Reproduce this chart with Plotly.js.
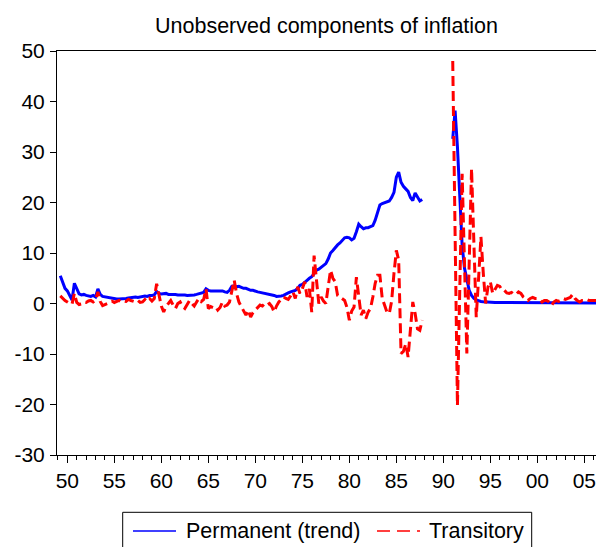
<!DOCTYPE html>
<html>
<head>
<meta charset="utf-8">
<script src="https://cdn.plot.ly/plotly-3.0.1.min.js"></script>
<style>
html,body{margin:0;padding:0;background:#fff;}
#chart{width:596px;height:547px;}
</style>
</head>
<body>
<div id="chart"></div>
<script>
// Quarterly observations, first one is 1949Q2; 1988Q1-1990Q4 missing
var firstQuarter = 1949.25;

var permanent = [
  /*1949*/ 5.5, 4.2, 3.0,
  /*1950*/ 2.5, 1.5, 0.7, 4.0,
  /*1951*/ 2.8, 1.9, 1.7, 1.8,
  /*1952*/ 1.6, 1.5, 1.4, 1.6,
  /*1953*/ 1.3, 2.9, 1.8, 1.4,
  /*1954*/ 1.3, 1.2, 1.1, 1.0,
  /*1955*/ 1.0, 0.9, 0.9, 0.9,
  /*1956*/ 1.0, 1.0, 1.1, 1.2,
  /*1957*/ 1.3, 1.3, 1.2, 1.3,
  /*1958*/ 1.4, 1.5, 1.4, 1.6,
  /*1959*/ 1.6, 1.7, 2.4, 2.0,
  /*1960*/ 1.9, 1.9, 2.0, 1.8,
  /*1961*/ 1.8, 1.9, 1.8, 1.7,
  /*1962*/ 1.7, 1.8, 1.7, 1.6,
  /*1963*/ 1.6, 1.7, 1.7, 1.8,
  /*1964*/ 1.9, 2.0, 2.2, 2.9,
  /*1965*/ 2.6, 2.5, 2.5, 2.6,
  /*1966*/ 2.5, 2.6, 2.5, 2.3,
  /*1967*/ 2.2, 2.6, 3.4, 3.5,
  /*1968*/ 3.3, 3.4, 3.2, 3.0,
  /*1969*/ 3.0, 2.8, 2.6, 2.6,
  /*1970*/ 2.4, 2.3, 2.2, 2.1,
  /*1971*/ 2.0, 1.9, 1.9, 1.8,
  /*1972*/ 1.6, 1.4, 1.4, 1.5,
  /*1973*/ 1.6, 1.9, 2.1, 2.3,
  /*1974*/ 2.5, 2.6, 3.0, 3.6,
  /*1975*/ 3.8, 4.3, 4.6, 5.0,
  /*1976*/ 5.3, 5.9, 6.6, 6.8,
  /*1977*/ 7.2, 7.6, 7.9, 8.8,
  /*1978*/ 10.0, 10.5, 11.1, 11.6,
  /*1979*/ 12.0, 12.6, 13.0, 13.1,
  /*1980*/ 13.0, 12.6, 12.9, 14.2,
  /*1981*/ 15.7, 15.2, 14.8, 15.0,
  /*1982*/ 15.0, 15.2, 15.4, 16.5,
  /*1983*/ 18.0, 19.5, 19.8, 20.0,
  /*1984*/ 20.2, 20.3, 21.0, 22.0,
  /*1985*/ 25.0, 26.0, 24.0, 23.2,
  /*1986*/ 22.7, 22.2, 21.0, 20.4,
  /*1987*/ 21.9, 21.0, 20.3, 20.6,
  /*1988*/ null, null, null, null,
  /*1989*/ null, null, null, null,
  /*1990*/ null, null, null, null,
  /*1991*/ 32.6, 38.2, 31.0, 21.0,
  /*1992*/ 11.5, 7.0, 4.5, 2.6,
  /*1993*/ 1.6, 1.0, 0.7, 0.5,
  /*1994*/ 0.4, 0.35, 0.3, 0.25,
  /*1995*/ 0.25, 0.25, 0.2, 0.2,
  /*1996*/ 0.2, 0.2, 0.2, 0.2,
  /*1997*/ 0.2, 0.2, 0.2, 0.2,
  /*1998*/ 0.2, 0.2, 0.2, 0.2,
  /*1999*/ 0.2, 0.2, 0.2, 0.2,
  /*2000*/ 0.15, 0.15, 0.15, 0.15,
  /*2001*/ 0.15, 0.15, 0.15, 0.15,
  /*2002*/ 0.15, 0.15, 0.15, 0.15,
  /*2003*/ 0.15, 0.15, 0.1, 0.1,
  /*2004*/ 0.1, 0.1, 0.1, 0.1,
  /*2005*/ 0.1, 0.1, 0.1, 0.1,
  /*2006*/ 0.1, 0.1
];

var transitory = [
  /*1949*/ 1.5, 1.0, 0.6,
  /*1950*/ 0.3, 0.0, -0.1, 2.0,
  /*1951*/ 0.2, -0.2, -0.1, 0.3,
  /*1952*/ 0.2, 0.5, 0.6, 0.3,
  /*1953*/ 0.6, 2.3, 0.4, -0.4,
  /*1954*/ -0.2, 0.0, 0.4, 0.5,
  /*1955*/ 0.2, 0.4, 0.6, 0.3,
  /*1956*/ 0.5, 0.4, 0.8, 0.6,
  /*1957*/ 0.5, 0.3, 0.6, 0.2,
  /*1958*/ 0.3, 0.8, 0.4, 1.0,
  /*1959*/ 0.5, 1.0, 3.9, 1.6,
  /*1960*/ -0.5, -1.7, -0.5, 0.0,
  /*1961*/ 0.6, -0.3, -1.0, 0.0,
  /*1962*/ 0.3, -0.6, -1.0, -0.2,
  /*1963*/ 0.6, 0.0, -0.5, 0.3,
  /*1964*/ 1.0, 0.4, 0.8, 2.9,
  /*1965*/ -1.0, -0.6, -0.8, -0.6,
  /*1966*/ -1.3, -0.8, 0.3, -0.5,
  /*1967*/ -0.3, 0.3, 2.3, 4.6,
  /*1968*/ 2.0, 0.3, -0.6, -1.5,
  /*1969*/ -2.3, -1.3, -2.7, -1.8,
  /*1970*/ -1.3, -0.6, -0.3, -0.5,
  /*1971*/ 0.0, -0.3, 0.0, -0.6,
  /*1972*/ -1.7, -0.5, 0.3, 0.8,
  /*1973*/ 1.3, 1.0, 0.8, 1.5,
  /*1974*/ 2.3, 1.0, 3.3, 2.0,
  /*1975*/ 2.9, 4.3, 1.3, 2.9,
  /*1976*/ -1.7, 9.5, 4.0, 0.0,
  /*1977*/ 1.3, 0.5, 0.0, 3.9,
  /*1978*/ 6.6, 5.0, 4.3, 1.6,
  /*1979*/ 1.3, 1.0, 0.6, -0.8,
  /*1980*/ -3.3, -1.5, -0.7, 5.2,
  /*1981*/ 1.3, -2.3, -1.3, -3.0,
  /*1982*/ -1.7, -1.0, 1.3, 4.0,
  /*1983*/ 5.6, 5.6, 1.0, -0.4,
  /*1984*/ -1.7, -2.0, 0.5, 6.0,
  /*1985*/ 10.5, 8.6, -9.9, -9.5,
  /*1986*/ -8.0, -10.6, -5.0, 0.3,
  /*1987*/ -2.0, -5.0, -5.3, -3.3,
  /*1988*/ null, null, null, null,
  /*1989*/ null, null, null, null,
  /*1990*/ null, null, null, null,
  /*1991*/ 48.0, 14.0, -20.2, 3.0,
  /*1992*/ 25.7, 8.0, -9.9, 8.0,
  /*1993*/ 26.7, 12.0, -2.7, 5.0,
  /*1994*/ 13.2, 6.0, 0.0, 3.3,
  /*1995*/ 4.3, 2.0, 2.8, 3.6,
  /*1996*/ 3.4, 2.6, 2.6, 2.1,
  /*1997*/ 2.0, 2.2, 1.8, 1.8,
  /*1998*/ 2.3, 2.0, 1.3, 1.0,
  /*1999*/ 0.6, 1.0, 1.2, 1.0,
  /*2000*/ 1.0, 0.8, 0.3, 0.6,
  /*2001*/ 0.6, 0.3, -0.4, 0.3,
  /*2002*/ 0.6, 0.4, 0.6, 1.0,
  /*2003*/ 0.8, 1.0, 1.2, 1.8,
  /*2004*/ 1.0, 0.6, 0.3, 0.6,
  /*2005*/ 0.6, 0.8, 0.6, 0.6,
  /*2006*/ 0.6, 0.6
];

var tickYears = [1950, 1955, 1960, 1965, 1970, 1975, 1980, 1985, 1990, 1995, 2000, 2005];
var tickLabels = ["50", "55", "60", "65", "70", "75", "80", "85", "90", "95", "00", "05"];
var yTicks = [-30, -20, -10, 0, 10, 20, 30, 40, 50];
var yTickLabels = ["-30", "-20", "-10", "0", "10", "20", "30", "40", "50"];
var seriesNames = ["Permanent (trend)", "Transitory"];
var seriesColors = ["#0000FF", "#FF0000"];

var dates = permanent.map(function (v, i) { return firstQuarter + i * 0.25; });

var fontFamily = "Liberation Sans, Arimo, Arial, sans-serif";

var traces = [
  {
    x: dates, y: permanent, type: "scatter", mode: "lines",
    name: seriesNames[0], connectgaps: false, showlegend: false,
    line: {color: seriesColors[0], width: 3}
  },
  {
    x: dates, y: transitory, type: "scatter", mode: "lines",
    name: seriesNames[1], connectgaps: false, showlegend: false,
    line: {color: seriesColors[1], width: 3, dash: "10px,5px"}
  }
];

// legend box drawn in paper coordinates (plot area: left 57, top 51, width 539, height 404)
function px(x) { return (x - 57) / 539; }
function py(y) { return (455 - y) / 404; }

var legendY = 531;
var shapes = [
  {type: "rect", xref: "paper", yref: "paper", x0: px(122.7), x1: px(531.7), y0: py(512.3), y1: py(570),
   line: {color: "#000", width: 1}, fillcolor: "rgba(0,0,0,0)", layer: "above"},
  {type: "line", xref: "paper", yref: "paper", x0: px(133), x1: px(176), y0: py(legendY), y1: py(legendY),
   line: {color: seriesColors[0], width: 1.5}},
  {type: "line", xref: "paper", yref: "paper", x0: px(377), x1: px(420), y0: py(legendY), y1: py(legendY),
   line: {color: seriesColors[1], width: 1.5, dash: "13px,7px"}}
];
var annotations = [
  {text: seriesNames[0], xref: "paper", yref: "paper", x: px(184), y: py(legendY), xanchor: "left", yanchor: "middle",
   showarrow: false, font: {family: fontFamily, size: 21.5, color: "#000"}},
  {text: seriesNames[1], xref: "paper", yref: "paper", x: px(427), y: py(legendY), xanchor: "left", yanchor: "middle",
   showarrow: false, font: {family: fontFamily, size: 21.5, color: "#000"}}
];

var layout = {
  width: 596, height: 547,
  paper_bgcolor: "#fff", plot_bgcolor: "#fff",
  margin: {l: 57, r: 0, t: 51, b: 92, autoexpand: false},
  font: {family: fontFamily, size: 21, color: "#000"},
  title: {
    text: "Unobserved components of inflation",
    font: {family: fontFamily, size: 21.5, color: "#000"},
    x: 0.5, xref: "paper", xanchor: "center",
    y: 1 - 25 / 547, yref: "container", yanchor: "middle"
  },
  xaxis: {
    range: [1948.9, 2006.24],
    tickmode: "array", tickvals: tickYears, ticktext: tickLabels,
    ticks: "outside", ticklen: 7, tickwidth: 1, tickcolor: "#000",
    minor: {dtick: 1, tick0: 1950, ticks: "outside", ticklen: 4, tickwidth: 1, tickcolor: "#000", showgrid: false},
    showline: true, linecolor: "#000", linewidth: 1, mirror: true,
    showgrid: false, zeroline: false,
    tickfont: {family: fontFamily, size: 21, color: "#000"},
    ticklabelstandoff: 0,
    ticklabeloverflow: "allow"
  },
  yaxis: {
    range: [-30, 50],
    tickmode: "array", tickvals: yTicks, ticktext: yTickLabels,
    ticks: "outside", ticklen: 6, tickwidth: 1, tickcolor: "#000",
    showline: true, linecolor: "#000", linewidth: 1, mirror: false,
    showgrid: false, zeroline: false,
    tickfont: {family: fontFamily, size: 21, color: "#000"},
    ticklabelstandoff: 1
  },
  showlegend: false,
  shapes: shapes,
  annotations: annotations
};

Plotly.newPlot("chart", traces, layout, {displayModeBar: false, staticPlot: true});
</script>
</body>
</html>
